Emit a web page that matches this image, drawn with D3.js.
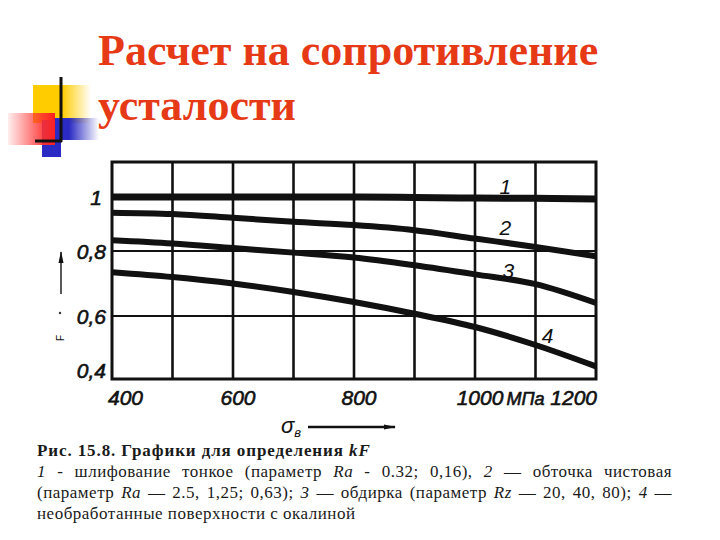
<!DOCTYPE html>
<html lang="ru">
<head>
<meta charset="UTF-8">
<title>Расчет на сопротивление усталости</title>
<script src="https://d3js.org/d3.v7.min.js"></script>
<style>
  body { margin: 0; background: #fff; }
  .tick-lbl { font-family: "Liberation Sans", Arial, sans-serif; font-style: italic; font-size: 21px; fill: #111; stroke: #111; stroke-width: 0.6px; }
  .cap { font-family: "Liberation Serif", "Times New Roman", serif; font-size: 17px; fill: #1a1a1a; letter-spacing: 0.5px; }
</style>
</head>
<body>
<div id="chart"></div>
<script>

// sigma_B, MPa (grid lines every 100)
var sigmaB = [400, 500, 600, 700, 800, 900, 1000, 1100, 1200];
// k_F, one array per curve
var curve1 = [1.00, 1.00, 1.00, 1.00, 1.00, 0.998, 0.996, 0.995, 0.993];
var curve2 = [0.942, 0.937, 0.923, 0.908, 0.896, 0.877, 0.846, 0.815, 0.784];
var curve3 = [0.840, 0.828, 0.811, 0.795, 0.780, 0.756, 0.728, 0.698, 0.640];
var curve4 = [0.735, 0.720, 0.700, 0.674, 0.643, 0.607, 0.565, 0.508, 0.440];
var curveNames = ["1", "2", "3", "4"];
var xTicks = [400, 600, 800, 1000, 1200];
var yTicks = [0.4, 0.6, 0.8, 1];
var yTickLabels = ["0,4", "0,6", "0,8", "1"];
var hGrid = [0.6, 0.8, 1];

var svg = d3.select("#chart").append("svg")
    .attr("width", 720)
    .attr("height", 540);

// ---- logo in the corner
var defs = svg.append("defs");
function grad(id, stops) {
  var g = defs.append("linearGradient").attr("id", id)
      .attr("x1", 0).attr("x2", 1).attr("y1", 0).attr("y2", 0);
  stops.forEach(function (s) {
    g.append("stop").attr("offset", s[0]).attr("stop-color", s[1]).attr("stop-opacity", s[2]);
  });
}
grad("gYellow", [[0, "#ffcc00", 1], [0.5, "#ffcc00", 1], [1, "#ffcc00", 0]]);
grad("gBlue", [[0, "#2b2bc4", 1], [0.35, "#2b2bc4", 1], [1, "#2b2bc4", 0]]);
grad("gRed", [[0, "#ff3333", 0.08], [0.75, "#ff3030", 0.9], [1, "#ff2020", 1]]);

var logo = svg.append("g");
logo.append("rect").attr("x", 33).attr("y", 85).attr("width", 58).attr("height", 38).attr("fill", "url(#gYellow)");
logo.append("rect").attr("x", 53).attr("y", 118).attr("width", 46).attr("height", 22).attr("fill", "url(#gBlue)");
logo.append("rect").attr("x", 42).attr("y", 120).attr("width", 19).attr("height", 37).attr("fill", "#2b2bc4");
logo.append("rect").attr("x", 8).attr("y", 113).attr("width", 47).attr("height", 32).attr("fill", "url(#gRed)");
logo.append("line").attr("x1", 61).attr("x2", 61).attr("y1", 77).attr("y2", 142)
    .attr("stroke", "#111").attr("stroke-width", 3);
logo.append("line").attr("x1", 35).attr("x2", 62).attr("y1", 141).attr("y2", 141)
    .attr("stroke", "#111").attr("stroke-width", 3);

// ---- title
var title = svg.append("text")
    .attr("font-family", "'Liberation Serif', 'Times New Roman', serif")
    .attr("font-weight", "bold")
    .attr("font-size", 44)
    .attr("fill", "#e63a17");
title.append("tspan").attr("x", 98).attr("y", 65).text("Расчет на сопротивление");
title.append("tspan").attr("x", 98).attr("y", 120).text("усталости");

// ---- chart
var x = d3.scaleLinear().domain([400, 1200]).range([112, 596]);
// the original drawing is not evenly spaced on k_F, so the scale is piecewise
var y = d3.scaleLinear().domain([0.4, 0.6, 0.8, 1.0, 1.13]).range([379, 316, 251, 197, 162]);

var plot = svg.append("g");

plot.selectAll(".vgrid")
  .data(sigmaB.slice(1, -1))
  .enter().append("line")
    .attr("x1", function (d) { return x(d); })
    .attr("x2", function (d) { return x(d); })
    .attr("y1", y(1.13))
    .attr("y2", y(0.4))
    .attr("stroke", "#111")
    .attr("stroke-width", 2.6);

plot.selectAll(".hgrid")
  .data(hGrid)
  .enter().append("line")
    .attr("x1", x(400))
    .attr("x2", x(1200))
    .attr("y1", function (d) { return y(d); })
    .attr("y2", function (d) { return y(d); })
    .attr("stroke", "#111")
    .attr("stroke-width", 2);

plot.append("rect")
    .attr("x", x(400))
    .attr("y", y(1.13))
    .attr("width", x(1200) - x(400))
    .attr("height", y(0.4) - y(1.13))
    .attr("fill", "none")
    .attr("stroke", "#111")
    .attr("stroke-width", 3);

var curves = [curve1, curve2, curve3, curve4];
var line = d3.line()
    .x(function (d, i) { return x(sigmaB[i]); })
    .y(function (d) { return y(d); })
    .curve(d3.curveMonotoneX);

plot.selectAll(".curve")
  .data(curves)
  .enter().append("path")
    .attr("d", line)
    .attr("fill", "none")
    .attr("stroke", "#111")
    .attr("stroke-width", function (d, i) { return i == 0 ? 7 : 6; });

// curve numbers, sitting just above their curve
var labelAt = [1050, 1050, 1055, 1120];
var labelLift = [4, 8, 2, 6];
plot.selectAll(".cname")
  .data(curveNames)
  .enter().append("text")
    .attr("x", function (d, i) { return x(labelAt[i]); })
    .attr("y", function (d, i) {
      var v = d3.scaleLinear().domain(sigmaB).range(curves[i])(labelAt[i]);
      return y(v) - labelLift[i];
    })
    .attr("text-anchor", "middle")
    .attr("font-family", "'Liberation Sans', Arial, sans-serif")
    .attr("font-style", "italic")
    .attr("font-size", 21)
    .attr("fill", "#111")
    .text(function (d) { return d; });

// x tick labels
plot.selectAll(".xt")
  .data(xTicks)
  .enter().append("text")
    .attr("class", "tick-lbl")
    .attr("x", function (d, i) {
      if (i == 0) return x(d) - 4;
      if (i == xTicks.length - 1) return x(d) + 1;
      return x(d) + 5;
    })
    .attr("y", 405)
    .attr("text-anchor", function (d, i) {
      return i == 0 ? "start" : (i == xTicks.length - 1 ? "end" : "middle");
    })
    .text(function (d) { return d; });

plot.append("text")
    .attr("class", "tick-lbl")
    .attr("x", (x(1000) + x(1200)) / 2 - 10)
    .attr("y", 405)
    .attr("text-anchor", "middle")
    .style("font-size", "18px")
    .text("МПа");

// y tick labels
plot.selectAll(".yt")
  .data(yTicks)
  .enter().append("text")
    .attr("class", "tick-lbl")
    .attr("x", function (d, i) { return i == 3 ? 102 : 106; })
    .attr("y", function (d, i) { return i == 0 ? y(d) - 1 : y(d) + 8; })
    .attr("text-anchor", "end")
    .text(function (d, i) { return yTickLabels[i]; });

// arrows for the axis titles
defs.append("marker")
    .attr("id", "arrow")
    .attr("viewBox", "0 0 12 6")
    .attr("refX", 11).attr("refY", 3)
    .attr("markerWidth", 12).attr("markerHeight", 6)
    .attr("markerUnits", "userSpaceOnUse")
    .attr("orient", "auto")
  .append("path")
    .attr("d", "M0,0.5 L12,3 L0,5.5 Z")
    .attr("fill", "#111");

svg.append("line")
    .attr("x1", 61).attr("x2", 61).attr("y1", 294).attr("y2", 252)
    .attr("stroke", "#222").attr("stroke-width", 1.5)
    .attr("marker-end", "url(#arrow)");
svg.append("text")
    .attr("transform", "translate(64,341) rotate(-90)")
    .attr("font-family", "'Liberation Sans', Arial, sans-serif")
    .attr("font-size", 10)
    .attr("fill", "#111")
    .text("F");
svg.append("circle").attr("cx", 60).attr("cy", 313).attr("r", 1.2).attr("fill", "#333");

var xt = svg.append("text")
    .attr("x", 281).attr("y", 433)
    .attr("font-family", "'Liberation Sans', Arial, sans-serif")
    .attr("font-style", "italic")
    .attr("fill", "#111");
xt.append("tspan").attr("font-size", 22).text("σ");
xt.append("tspan").attr("font-size", 13).attr("dy", 4).text("в");

svg.append("line")
    .attr("x1", 308).attr("x2", 395).attr("y1", 427).attr("y2", 427)
    .attr("stroke", "#111").attr("stroke-width", 2.5)
    .attr("marker-end", "url(#arrow)");

// ---- caption
var capLeft = 37, capRight = 672;
var capLines = [
  [["Рис. 15.8. Графики для определения ", "b"], ["kF", "bi"]],
  [["1", "i"], [" - шлифование тонкое (параметр ", ""], ["Ra", "i"], [" - 0.32; 0,16), ", ""], ["2", "i"], [" — обточка чистовая", ""]],
  [["(параметр ", ""], ["Ra", "i"], [" — 2.5, 1,25; 0,63); ", ""], ["3", "i"], [" — обдирка (параметр ", ""], ["Rz", "i"], [" — 20, 40, 80); ", ""], ["4", "i"], [" —", ""]],
  [["необработанные поверхности с окалиной", ""]]
];
var capJustify = [false, true, true, false];

capLines.forEach(function (segs, k) {
  var t = svg.append("text")
      .attr("class", "cap")
      .attr("x", capLeft)
      .attr("y", 456 + k * 21)
      .attr("xml:space", "preserve");
  if (k == 0) t.style("letter-spacing", "0.9px");
  segs.forEach(function (s) {
    t.append("tspan")
        .attr("font-weight", s[1].indexOf("b") >= 0 ? "bold" : "normal")
        .attr("font-style", s[1].indexOf("i") >= 0 ? "italic" : "normal")
        .text(s[0]);
  });
  if (capJustify[k]) {
    var w = t.node().getComputedTextLength();
    var n = (t.text().match(/ /g) || []).length;
    t.attr("word-spacing", (capRight - capLeft - w) / n);
  }
});

</script>
</body>
</html>
